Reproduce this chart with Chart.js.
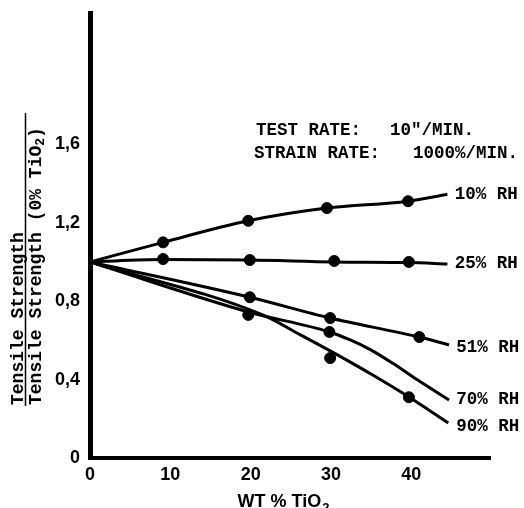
<!DOCTYPE html>
<html>
<head>
<meta charset="utf-8">
<script src="https://cdn.jsdelivr.net/npm/chart.js@4/dist/chart.umd.min.js"></script>
<style>
html,body{margin:0;padding:0;background:#fff;}
#wrap{width:524px;height:508px;}
</style>
</head>
<body>
<div id="wrap"><canvas id="c" width="524" height="508"></canvas></div>
<script>
// ---- data ----
const xTicks = [0, 10, 20, 30, 40];
const xTickLabels = ['0', '10', '20', '30', '40'];
const yTicks = [0, 0.4, 0.8, 1.2, 1.6];
const yTickLabels = ['0', '0,4', '0,8', '1,2', '1,6'];

const seriesNames = ['10% RH', '25% RH', '51% RH', '70% RH', '90% RH'];

// fitted curves
const rh10CurveX = [0, 9.1, 19.7, 29.5, 39.6, 44.5];
const rh10CurveY = [1.0, 1.10, 1.21, 1.275, 1.31, 1.345];
const rh25CurveX = [0, 9.1, 19.9, 30.4, 39.7, 44.5];
const rh25CurveY = [1.0, 1.012, 1.01, 1.0, 0.997, 0.99];
const rh51CurveX = [0, 19.9, 29.9, 41.0, 44.7];
const rh51CurveY = [1.0, 0.82, 0.714, 0.617, 0.577];
const rh70CurveX = [0, 19.7, 29.8, 32.4, 34.9, 37.7, 40.7, 44.7];
const rh70CurveY = [1.0, 0.745, 0.643, 0.602, 0.553, 0.483, 0.400, 0.296];
const rh90CurveX = [0, 21.5, 26.2, 30.8, 35.2, 39.7, 44.6];
const rh90CurveY = [1.0, 0.73, 0.628, 0.526, 0.423, 0.311, 0.179];

// measured points
const rh10PointsX = [9.1, 19.7, 29.5, 39.6];
const rh10PointsY = [1.10, 1.21, 1.275, 1.31];
const rh25PointsX = [9.1, 19.9, 30.4, 39.7];
const rh25PointsY = [1.015, 1.01, 1.005, 1.0];
const rh51PointsX = [19.9, 29.9, 41.0];
const rh51PointsY = [0.82, 0.714, 0.617];
const rh70PointsX = [19.7, 29.8];
const rh70PointsY = [0.73, 0.643];
const rh90PointsX = [29.9, 39.7];
const rh90PointsY = [0.51, 0.31];

// label anchors (data units)
const labelX = [45.4, 45.4, 45.6, 45.6, 45.6];
const labelY = [1.345, 0.99, 0.565, 0.30, 0.16];

const noteLine1 = ['TEST RATE:', '10"/MIN.'];
const noteLine2 = ['STRAIN RATE:', '1000%/MIN.'];
const yTitleNum = 'Tensile Strength';
const yTitleDen = ['Tensile Strength (0% TiO', '2', ')'];
const xTitle = ['WT % TiO', '2'];

const zip = (xs, ys) => xs.map((x, i) => ({x: x, y: ys[i]}));
const curves = [
  zip(rh10CurveX, rh10CurveY), zip(rh25CurveX, rh25CurveY), zip(rh51CurveX, rh51CurveY),
  zip(rh70CurveX, rh70CurveY), zip(rh90CurveX, rh90CurveY)
];
const points = [
  zip(rh10PointsX, rh10PointsY), zip(rh25PointsX, rh25PointsY), zip(rh51PointsX, rh51PointsY),
  zip(rh70PointsX, rh70PointsY), zip(rh90PointsX, rh90PointsY)
];

const datasets = [];
curves.forEach((d, i) => datasets.push({
  type: 'line', label: seriesNames[i] + ' curve', data: d,
  borderColor: '#000', borderWidth: 3, pointRadius: 0,
  cubicInterpolationMode: 'monotone', fill: false
}));
points.forEach((d, i) => datasets.push({
  type: 'scatter', label: seriesNames[i], data: d,
  backgroundColor: '#000', borderColor: '#000', pointRadius: 5.5, showLine: false
}));

const mono = '"Liberation Mono", "Courier New", monospace';
const sans = '"Liberation Sans", Arial, sans-serif';

const textPlugin = {
  id: 'texts',
  afterDraw(chart) {
    const ctx = chart.ctx;
    const xs = chart.scales.x, ys = chart.scales.y;
    ctx.save();
    ctx.fillStyle = '#000';
    // curve labels
    ctx.font = 'bold 17.5px ' + mono;
    ctx.textBaseline = 'middle';
    ctx.textAlign = 'left';
    seriesNames.forEach((n, i) => {
      ctx.fillText(n, xs.getPixelForValue(labelX[i]), ys.getPixelForValue(labelY[i]));
    });
    // note
    ctx.fillText(noteLine1[0], 256, 131);
    ctx.fillText(noteLine1[1], 390, 131);
    ctx.fillText(noteLine2[0], 254, 154);
    ctx.fillText(noteLine2[1], 413, 154);
    // x title
    ctx.textBaseline = 'alphabetic';
    ctx.font = 'bold 18px ' + sans;
    const w1 = ctx.measureText(xTitle[0]).width;
    ctx.font = 'bold 13px ' + sans;
    const w2 = ctx.measureText(xTitle[1]).width;
    const sx = 283 - (w1 + w2) / 2;
    ctx.font = 'bold 18px ' + sans;
    ctx.fillText(xTitle[0], sx, 507);
    ctx.font = 'bold 13px ' + sans;
    ctx.fillText(xTitle[1], sx + w1 + 1, 512);
    // y title (fraction)
    ctx.save();
    ctx.translate(23, 405);
    ctx.rotate(-Math.PI / 2);
    ctx.font = 'bold 18px ' + mono;
    ctx.fillText(yTitleNum, 0, 0);
    ctx.restore();
    ctx.save();
    ctx.translate(41, 405);
    ctx.rotate(-Math.PI / 2);
    ctx.font = 'bold 18px ' + mono;
    ctx.fillText(yTitleDen[0], 0, 0);
    let w = ctx.measureText(yTitleDen[0]).width;
    ctx.font = 'bold 13px ' + mono;
    ctx.fillText(yTitleDen[1], w, 3);
    w += ctx.measureText(yTitleDen[1]).width;
    ctx.font = 'bold 18px ' + mono;
    ctx.fillText(yTitleDen[2], w, 0);
    ctx.restore();
    ctx.strokeStyle = '#000';
    ctx.lineWidth = 1.5;
    ctx.beginPath();
    ctx.moveTo(25.5, 406);
    ctx.lineTo(25.5, 113);
    ctx.stroke();
    ctx.restore();
  }
};

new Chart(document.getElementById('c'), {
  data: { datasets: datasets },
  options: {
    responsive: false,
    animation: false,
    devicePixelRatio: 1,
    layout: { padding: { left: 0, top: 13, right: 34, bottom: 0 } },
    plugins: { legend: { display: false }, tooltip: { enabled: false } },
    scales: {
      x: {
        type: 'linear', min: 0, max: 49.8,
        grid: { display: false, drawTicks: false },
        border: { display: true, color: '#000', width: 4 },
        afterFit: s => { s.height = 50; s.paddingLeft = 0; s.paddingRight = 0; },
        afterBuildTicks: s => { s.ticks = xTicks.map(v => ({ value: v })); },
        ticks: {
          color: '#000', padding: 6, maxRotation: 0, autoSkip: false,
          font: { family: sans, size: 18, weight: 'bold' },
          callback: (v) => xTickLabels[xTicks.indexOf(v)]
        }
      },
      y: {
        type: 'linear', min: 0, max: 2.27,
        grid: { display: false, drawTicks: false },
        border: { display: true, color: '#000', width: 5 },
        afterFit: s => { s.width = 90; s.paddingTop = 0; s.paddingBottom = 0; },
        afterBuildTicks: s => { s.ticks = yTicks.map(v => ({ value: v })); },
        ticks: {
          color: '#000', padding: 10, autoSkip: false,
          font: { family: sans, size: 18, weight: 'bold' },
          callback: (v) => yTickLabels[yTicks.indexOf(v)]
        }
      }
    }
  },
  plugins: [textPlugin]
});
</script>
</body>
</html>
